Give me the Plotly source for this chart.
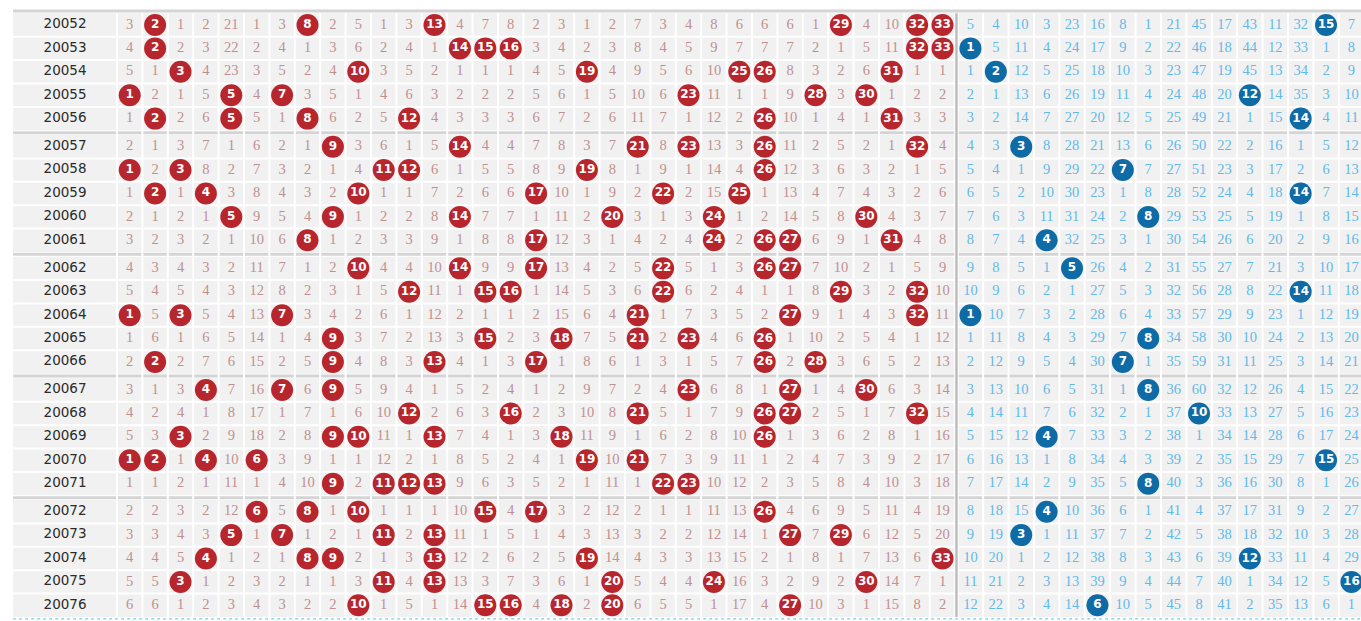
import plotly.graph_objects as go

issues = list(range(20052, 20077))

# omission values per red ball 1..33 (0 = drawn this issue)
red_omission = [
    [3,0,1,2,21,1,3,0,2,5,1,3,0,4,7,8,2,3,1,2,7,3,4,8,6,6,6,1,0,4,10,0,0],
    [4,0,2,3,22,2,4,1,3,6,2,4,1,0,0,0,3,4,2,3,8,4,5,9,7,7,7,2,1,5,11,0,0],
    [5,1,0,4,23,3,5,2,4,0,3,5,2,1,1,1,4,5,0,4,9,5,6,10,0,0,8,3,2,6,0,1,1],
    [0,2,1,5,0,4,0,3,5,1,4,6,3,2,2,2,5,6,1,5,10,6,0,11,1,1,9,0,3,0,1,2,2],
    [1,0,2,6,0,5,1,0,6,2,5,0,4,3,3,3,6,7,2,6,11,7,1,12,2,0,10,1,4,1,0,3,3],
    [2,1,3,7,1,6,2,1,0,3,6,1,5,0,4,4,7,8,3,7,0,8,0,13,3,0,11,2,5,2,1,0,4],
    [0,2,0,8,2,7,3,2,1,4,0,0,6,1,5,5,8,9,0,8,1,9,1,14,4,0,12,3,6,3,2,1,5],
    [1,0,1,0,3,8,4,3,2,0,1,1,7,2,6,6,0,10,1,9,2,0,2,15,0,1,13,4,7,4,3,2,6],
    [2,1,2,1,0,9,5,4,0,1,2,2,8,0,7,7,1,11,2,0,3,1,3,0,1,2,14,5,8,0,4,3,7],
    [3,2,3,2,1,10,6,0,1,2,3,3,9,1,8,8,0,12,3,1,4,2,4,0,2,0,0,6,9,1,0,4,8],
    [4,3,4,3,2,11,7,1,2,0,4,4,10,0,9,9,0,13,4,2,5,0,5,1,3,0,0,7,10,2,1,5,9],
    [5,4,5,4,3,12,8,2,3,1,5,0,11,1,0,0,1,14,5,3,6,0,6,2,4,1,1,8,0,3,2,0,10],
    [0,5,0,5,4,13,0,3,4,2,6,1,12,2,1,1,2,15,6,4,0,1,7,3,5,2,0,9,1,4,3,0,11],
    [1,6,1,6,5,14,1,4,0,3,7,2,13,3,0,2,3,0,7,5,0,2,0,4,6,0,1,10,2,5,4,1,12],
    [2,0,2,7,6,15,2,5,0,4,8,3,0,4,1,3,0,1,8,6,1,3,1,5,7,0,2,0,3,6,5,2,13],
    [3,1,3,0,7,16,0,6,0,5,9,4,1,5,2,4,1,2,9,7,2,4,0,6,8,1,0,1,4,0,6,3,14],
    [4,2,4,1,8,17,1,7,1,6,10,0,2,6,3,0,2,3,10,8,0,5,1,7,9,0,0,2,5,1,7,0,15],
    [5,3,0,2,9,18,2,8,0,0,11,1,0,7,4,1,3,0,11,9,1,6,2,8,10,0,1,3,6,2,8,1,16],
    [0,0,1,0,10,0,3,9,1,1,12,2,1,8,5,2,4,1,0,10,0,7,3,9,11,1,2,4,7,3,9,2,17],
    [1,1,2,1,11,1,4,10,0,2,0,0,0,9,6,3,5,2,1,11,1,0,0,10,12,2,3,5,8,4,10,3,18],
    [2,2,3,2,12,0,5,0,1,0,1,1,1,10,0,4,0,3,2,12,2,1,1,11,13,0,4,6,9,5,11,4,19],
    [3,3,4,3,0,1,0,1,2,1,0,2,0,11,1,5,1,4,3,13,3,2,2,12,14,1,0,7,0,6,12,5,20],
    [4,4,5,0,1,2,1,0,0,2,1,3,0,12,2,6,2,5,0,14,4,3,3,13,15,2,1,8,1,7,13,6,0],
    [5,5,0,1,2,3,2,1,1,3,0,4,0,13,3,7,3,6,1,0,5,4,4,0,16,3,2,9,2,0,14,7,1],
    [6,6,1,2,3,4,3,2,2,0,1,5,1,14,0,0,4,0,2,0,6,5,5,1,17,4,0,10,3,1,15,8,2],
]

# omission values per blue ball 1..16 (0 = drawn this issue)
blue_omission = [
    [5,4,10,3,23,16,8,1,21,45,17,43,11,32,0,7],
    [0,5,11,4,24,17,9,2,22,46,18,44,12,33,1,8],
    [1,0,12,5,25,18,10,3,23,47,19,45,13,34,2,9],
    [2,1,13,6,26,19,11,4,24,48,20,0,14,35,3,10],
    [3,2,14,7,27,20,12,5,25,49,21,1,15,0,4,11],
    [4,3,0,8,28,21,13,6,26,50,22,2,16,1,5,12],
    [5,4,1,9,29,22,0,7,27,51,23,3,17,2,6,13],
    [6,5,2,10,30,23,1,8,28,52,24,4,18,0,7,14],
    [7,6,3,11,31,24,2,0,29,53,25,5,19,1,8,15],
    [8,7,4,0,32,25,3,1,30,54,26,6,20,2,9,16],
    [9,8,5,1,0,26,4,2,31,55,27,7,21,3,10,17],
    [10,9,6,2,1,27,5,3,32,56,28,8,22,0,11,18],
    [0,10,7,3,2,28,6,4,33,57,29,9,23,1,12,19],
    [1,11,8,4,3,29,7,0,34,58,30,10,24,2,13,20],
    [2,12,9,5,4,30,0,1,35,59,31,11,25,3,14,21],
    [3,13,10,6,5,31,1,0,36,60,32,12,26,4,15,22],
    [4,14,11,7,6,32,2,1,37,0,33,13,27,5,16,23],
    [5,15,12,0,7,33,3,2,38,1,34,14,28,6,17,24],
    [6,16,13,1,8,34,4,3,39,2,35,15,29,7,0,25],
    [7,17,14,2,9,35,5,0,40,3,36,16,30,8,1,26],
    [8,18,15,0,10,36,6,1,41,4,37,17,31,9,2,27],
    [9,19,0,1,11,37,7,2,42,5,38,18,32,10,3,28],
    [10,20,1,2,12,38,8,3,43,6,39,0,33,11,4,29],
    [11,21,2,3,13,39,9,4,44,7,40,1,34,12,5,0],
    [12,22,3,4,14,0,10,5,45,8,41,2,35,13,6,1],
]

# ---- layout geometry (in axis units) ----
N_RED, N_BLUE = 33, 16
GROUP = 5
GAP = 0.2          # extra vertical space between groups of 5 rows
SEP = 0.1          # gap between red and blue zones
ISSUE_W = 4.09     # width of issue column
PX_COL = 25.4
PX_ROW = 23.4

def row_y(r):
    return r + GAP * (r // GROUP)

def red_x(c):      # c = 1..33
    return c - 0.5

def blue_x(j):     # j = 1..16
    return N_RED + SEP + j - 0.5

n_rows = len(issues)
n_groups = (n_rows + GROUP - 1) // GROUP
x_left = -ISSUE_W
x_right = N_RED + SEP + N_BLUE + 0.5

RED_BALL = "#b8262d"
BLUE_BALL = "#0e6ba5"
RED_TXT = "#bf9090"
BLUE_TXT = "#62b9e8"
CELL_BG = "#f1f1f1"
BAND = "#d4d4d4"

shapes = []
for g in range(n_groups):
    r0 = g * GROUP
    r1 = min(n_rows - 1, r0 + GROUP - 1)
    shapes.append(dict(type="rect", xref="x", yref="y", x0=x_left, x1=x_right,
                       y0=row_y(r0) - 0.5, y1=row_y(r1) + 0.5,
                       fillcolor=CELL_BG, line=dict(width=0), layer="below"))
    for r in range(r0, r1):
        yy = row_y(r) + 0.5
        shapes.append(dict(type="line", xref="x", yref="y", x0=x_left, x1=x_right,
                           y0=yy, y1=yy, line=dict(color="white", width=2), layer="below"))
    yb = row_y(r0) - 0.5 - GAP / 2
    shapes.append(dict(type="line", xref="x", yref="y", x0=x_left, x1=x_right,
                       y0=yb, y1=yb, line=dict(color=BAND, width=3), layer="below"))

y_top = row_y(0) - 0.5
y_bot = row_y(n_rows - 1) + 0.5
for c in range(0, N_RED + 1):
    shapes.append(dict(type="line", xref="x", yref="y", x0=c, x1=c, y0=y_top, y1=y_bot,
                       line=dict(color="white", width=2), layer="below"))
for j in range(0, N_BLUE + 1):
    xx = N_RED + SEP + j
    shapes.append(dict(type="line", xref="x", yref="y", x0=xx, x1=xx, y0=y_top, y1=y_bot,
                       line=dict(color="white", width=2), layer="below"))
xs = N_RED + SEP / 2
shapes.append(dict(type="line", xref="x", yref="y", x0=xs, x1=xs, y0=y_top, y1=y_bot,
                   line=dict(color="#bdbdbd", width=2.5), layer="below"))
shapes.append(dict(type="line", xref="x", yref="y", x0=x_left, x1=x_right,
                   y0=y_bot + 0.08, y1=y_bot + 0.08,
                   line=dict(color="#5cc3e6", width=1, dash="dot"), layer="below"))

fig = go.Figure()

fig.add_trace(go.Scatter(
    x=[-ISSUE_W / 2] * n_rows, y=[row_y(r) for r in range(n_rows)],
    text=[str(i) for i in issues], mode="text",
    textfont=dict(family="DejaVu Sans", size=13.5, color="#2b2b2b"),
    hoverinfo="skip", showlegend=False))

rx, ry, rt, bx, by, bt = [], [], [], [], [], []
rbx, rby, rbt, bbx, bby, bbt = [], [], [], [], [], []
for r in range(n_rows):
    y = row_y(r)
    for c, v in enumerate(red_omission[r], start=1):
        if v == 0:
            rbx.append(red_x(c)); rby.append(y); rbt.append(str(c))
        else:
            rx.append(red_x(c)); ry.append(y); rt.append(str(v))
    for j, v in enumerate(blue_omission[r], start=1):
        if v == 0:
            bbx.append(blue_x(j)); bby.append(y); bbt.append(str(j))
        else:
            bx.append(blue_x(j)); by.append(y); bt.append(str(v))

fig.add_trace(go.Scatter(x=rx, y=ry, text=rt, mode="text",
                         textfont=dict(family="Liberation Serif", size=14.5, color=RED_TXT),
                         hoverinfo="skip", showlegend=False))
fig.add_trace(go.Scatter(x=bx, y=by, text=bt, mode="text",
                         textfont=dict(family="Liberation Serif", size=14.5, color=BLUE_TXT),
                         hoverinfo="skip", showlegend=False))
fig.add_trace(go.Scatter(x=rbx, y=rby, text=rbt, mode="markers+text",
                         marker=dict(size=22, color=RED_BALL, line=dict(width=0)),
                         textfont=dict(family="DejaVu Sans", size=12, color="white", weight="bold"),
                         textposition="middle center", hoverinfo="skip", showlegend=False))
fig.add_trace(go.Scatter(x=bbx, y=bby, text=bbt, mode="markers+text",
                         marker=dict(size=22, color=BLUE_BALL, line=dict(width=0)),
                         textfont=dict(family="DejaVu Sans", size=12, color="white", weight="bold"),
                         textposition="middle center", hoverinfo="skip", showlegend=False))

W, H = 1361, 621
x0_px = 117.0
y0_px = 25.0
fig.update_layout(
    width=W, height=H,
    margin=dict(l=0, r=0, t=0, b=0),
    paper_bgcolor="white", plot_bgcolor="white",
    shapes=shapes,
    xaxis=dict(range=[-x0_px / PX_COL, (W - x0_px) / PX_COL], visible=False, fixedrange=True),
    yaxis=dict(range=[(H - y0_px) / PX_ROW, -y0_px / PX_ROW], visible=False, fixedrange=True),
    showlegend=False,
)

fig.write_html("out.html", config={"displayModeBar": False},
               post_script="document.body.style.margin='0';document.body.style.overflow='hidden';")
